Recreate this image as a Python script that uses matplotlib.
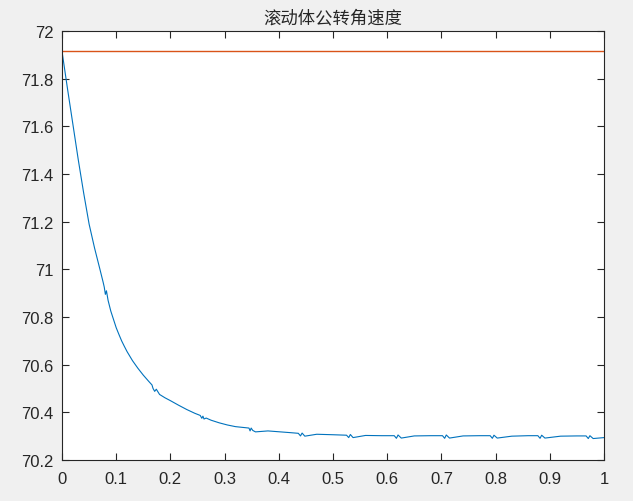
import matplotlib
matplotlib.use("Agg")
import matplotlib.pyplot as plt

# --- data ---
t_vals = [0.000, 0.010, 0.020, 0.030, 0.040, 0.050, 0.060, 0.070, 0.076, 0.078, 0.080, 0.082,
          0.085, 0.090, 0.095, 0.100, 0.105, 0.110, 0.115, 0.120, 0.130, 0.140, 0.150,
          0.160, 0.166, 0.168, 0.171, 0.174, 0.180, 0.190, 0.200,
          0.215, 0.230, 0.245, 0.255, 0.258, 0.260, 0.262, 0.266, 0.275, 0.290, 0.305, 0.320,
          0.345, 0.347, 0.349, 0.352, 0.357,
          0.380, 0.420, 0.436, 0.440, 0.443, 0.448, 0.470, 0.500, 0.525, 0.529, 0.532,
          0.537, 0.560, 0.590, 0.613, 0.617, 0.620, 0.626, 0.650, 0.680, 0.702, 0.706,
          0.709, 0.715, 0.740, 0.770, 0.790, 0.794, 0.797, 0.803, 0.830, 0.860, 0.878,
          0.882, 0.885, 0.891, 0.920, 0.950, 0.967, 0.971, 0.974, 0.980, 1.000]
speed = [71.915, 71.76, 71.61, 71.46, 71.32, 71.19, 71.09, 71.00, 70.945, 70.925, 70.895, 70.91,
         70.87, 70.825, 70.79, 70.755, 70.727, 70.70, 70.677, 70.655, 70.617, 70.585, 70.556,
         70.53, 70.515, 70.50, 70.488, 70.497, 70.475, 70.461, 70.449,
         70.43, 70.412, 70.396, 70.387, 70.375, 70.384, 70.372, 70.376, 70.367, 70.356, 70.347, 70.340,
         70.334, 70.322, 70.334, 70.324, 70.318,
         70.322, 70.315, 70.312, 70.301, 70.313, 70.300, 70.308, 70.306, 70.304, 70.294, 70.307,
         70.294, 70.303, 70.302, 70.302, 70.291, 70.305, 70.292, 70.301, 70.302, 70.302, 70.291,
         70.305, 70.292, 70.301, 70.302, 70.302, 70.291, 70.304, 70.292, 70.300, 70.302, 70.302,
         70.291, 70.304, 70.292, 70.300, 70.301, 70.301, 70.290, 70.302, 70.290, 70.294]
reference_t = [0.0, 1.0]
reference_speed = [71.915, 71.915]

title_text = "滚动体公转角速度"
x_ticks = [0, 0.1, 0.2, 0.3, 0.4, 0.5, 0.6, 0.7, 0.8, 0.9, 1.0]
x_tick_labels = ["0", "0.1", "0.2", "0.3", "0.4", "0.5", "0.6", "0.7", "0.8", "0.9", "1"]
y_ticks = [70.2, 70.4, 70.6, 70.8, 71.0, 71.2, 71.4, 71.6, 71.8, 72.0]
y_tick_labels = ["70.2", "70.4", "70.6", "70.8", "71", "71.2", "71.4", "71.6", "71.8", "72"]

plt.rcParams['font.family'] = ['Liberation Sans', 'Noto Sans CJK SC', 'DejaVu Sans']

fig = plt.figure(figsize=(6.33, 5.02), dpi=100, facecolor='#F0F0F0')
ax = fig.add_axes([62/633, 41/502, 542/633, 429/502])
ax.set_facecolor('white')

ax.plot(t_vals, speed, color='#0072BD', lw=0.8)
ax.plot(reference_t, reference_speed, color='#D95319', lw=1.0)

ax.set_xlim(0, 1)
ax.set_ylim(70.2, 72)
ax.set_xticks(x_ticks)
ax.set_xticklabels(x_tick_labels)
ax.set_yticks(y_ticks)
ax.set_yticklabels(y_tick_labels)

axis_col = '#262626'
for sp in ax.spines.values():
    sp.set_color(axis_col)
    sp.set_linewidth(0.8)
ax.tick_params(direction='in', length=5, width=0.8, colors=axis_col,
               labelsize=12, top=True, right=True, pad=6)
ax.tick_params(axis='x', pad=8)

ax.set_title(title_text, fontsize=12.5, color=axis_col, pad=6,
             family=['Noto Sans CJK SC', 'DejaVu Sans'])

fig.savefig('out.png', dpi=100, facecolor=fig.get_facecolor())
